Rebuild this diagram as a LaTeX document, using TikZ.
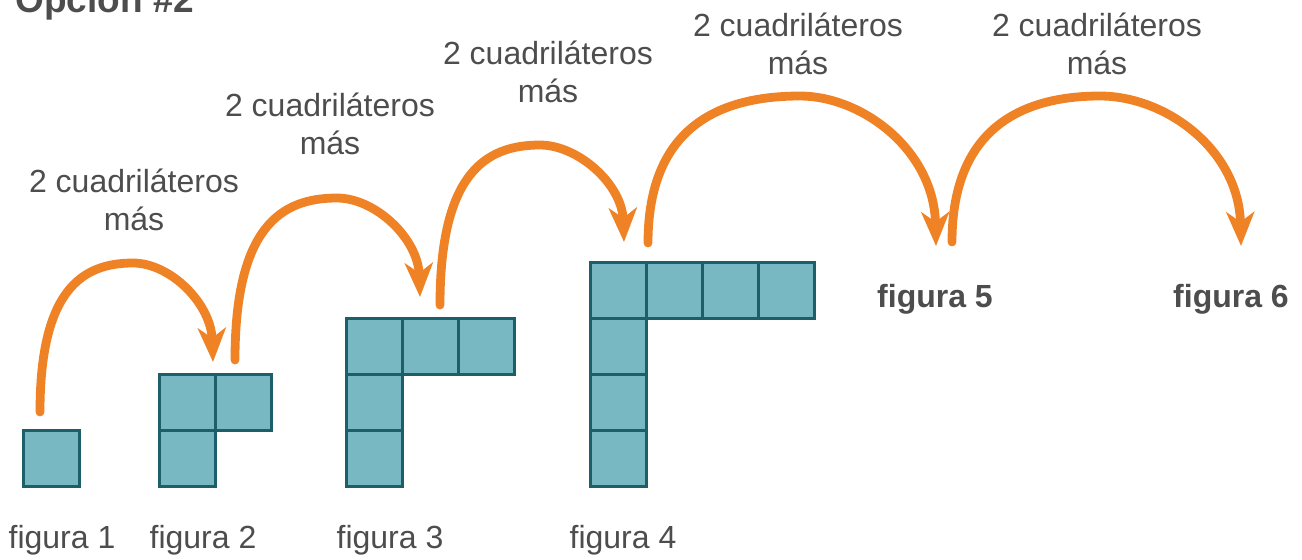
\documentclass[tikz,border=0pt]{standalone}
\usepackage{fontspec}
\setmainfont{Liberation Sans}
\usetikzlibrary{arrows.meta}

\definecolor{naranja}{HTML}{F08226}
\definecolor{relleno}{HTML}{77B8C2}
\definecolor{borde}{HTML}{1D5F69}
\definecolor{gristexto}{HTML}{4D4D4D}

\tikzset{
  cuadro/.style={draw=borde, fill=relleno, line width=1.5pt, minimum size=28pt, inner sep=0pt},
  flecha/.style={draw=naranja, line width=4.4pt, line cap=round,
    -{Stealth[length=17pt,width=14pt,inset=5pt]}},
  etiqueta/.style={text=gristexto, inner sep=0pt, align=center,
    font=\fontsize{16}{19}\selectfont},
  negrita/.style={text=gristexto, inner sep=0pt, font=\bfseries\fontsize{16}{19}\selectfont}
}

\begin{document}
\begin{tikzpicture}[x=0.5pt,y=-0.5pt]
    \useasboundingbox (0,0) rectangle (1302,559);

    \node[text=gristexto, inner sep=0pt, anchor=base west, font=\bfseries\fontsize{18.5}{22}\selectfont]
        (titulo) at (15,12) {Opción \#2};

    % figura 1
    \node[cuadro] (f1a) at (51,458) {};
    % figura 2
    \node[cuadro] (f2a) at (187,402) {};
    \node[cuadro] (f2b) at (243,402) {};
    \node[cuadro] (f2c) at (187,458) {};
    % figura 3
    \node[cuadro] (f3a) at (374,346) {};
    \node[cuadro] (f3b) at (430,346) {};
    \node[cuadro] (f3c) at (486,346) {};
    \node[cuadro] (f3d) at (374,402) {};
    \node[cuadro] (f3e) at (374,458) {};
    % figura 4
    \node[cuadro] (f4a) at (618,290) {};
    \node[cuadro] (f4b) at (674,290) {};
    \node[cuadro] (f4c) at (730,290) {};
    \node[cuadro] (f4d) at (786,290) {};
    \node[cuadro] (f4e) at (618,346) {};
    \node[cuadro] (f4f) at (618,402) {};
    \node[cuadro] (f4g) at (618,458) {};

    % nombres
    \node[etiqueta, anchor=base] (n1) at (62,548) {figura 1};
    \node[etiqueta, anchor=base] (n2) at (203,548) {figura 2};
    \node[etiqueta, anchor=base] (n3) at (390,548) {figura 3};
    \node[etiqueta, anchor=base] (n4) at (623,548) {figura 4};
    \node[negrita, anchor=base] (n5) at (935,307) {figura 5};
    \node[negrita, anchor=base] (n6) at (1231,307) {figura 6};

    % saltos
    \coordinate (s1) at (40,412);   \coordinate (c1) at (133,263);  \coordinate (t1) at (213,362);
    \coordinate (s2) at (235,360);  \coordinate (c2) at (337,198);  \coordinate (t2) at (420,297);
    \coordinate (s3) at (440,305);  \coordinate (c3) at (540,145);  \coordinate (t3) at (624,242);
    \coordinate (s4) at (648,243);  \coordinate (c4) at (800,96);   \coordinate (t4) at (936,246);
    \coordinate (s5) at (952,242);  \coordinate (c5) at (1100,96);  \coordinate (t5) at (1241,246);

    \draw[flecha] (s1) .. controls (40,290) and (82,263) .. (c1) .. controls (170,263) and (211,303) .. (t1);
    \draw[flecha] (s2) .. controls (235,227) and (281,198) .. (c2) .. controls (375,198) and (418,238) .. (t2);
    \draw[flecha] (s3) .. controls (440,174) and (485,145) .. (c3) .. controls (578,145) and (622,184) .. (t3);
    \draw[flecha] (s4) .. controls (648,125) and (722,96) .. (c4) .. controls (862,96) and (934,150) .. (t4);
    \draw[flecha] (s5) .. controls (952,125) and (1026,96) .. (c5) .. controls (1166,96) and (1239,150) .. (t5);

    % textos de los saltos
    \node[etiqueta, anchor=base] (e1) at (134,230) {2 cuadriláteros\\más};
    \node[etiqueta, anchor=base] (e2) at (330,154) {2 cuadriláteros\\más};
    \node[etiqueta, anchor=base] (e3) at (548,102) {2 cuadriláteros\\más};
    \node[etiqueta, anchor=base] (e4) at (798,74) {2 cuadriláteros\\más};
    \node[etiqueta, anchor=base] (e5) at (1097,74) {2 cuadriláteros\\más};
\end{tikzpicture}
\end{document}
